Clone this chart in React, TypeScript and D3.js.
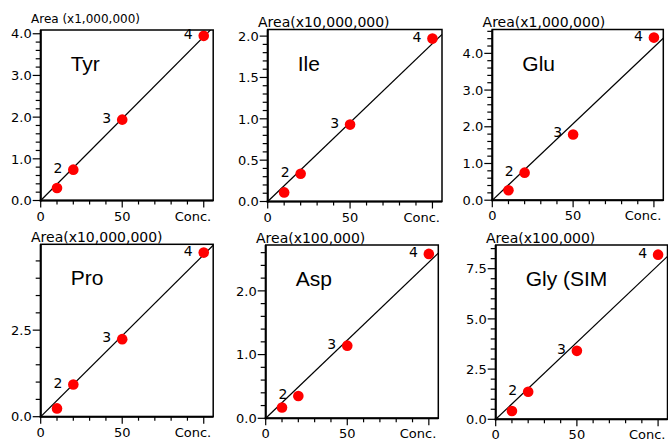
import * as d3 from "d3"

// concentration levels (x) and the point labels shown next to the dots
const conc = [10, 20, 50, 100]
const pointLabels = ["", "2", "3", "4"]

// peak area per compound, in the unit of each panel's axis label
const names = ["Tyr", "Ile", "Glu", "Pro", "Asp", "Gly (SIM"]
const units = [
  "Area (x1,000,000)",
  "Area(x10,000,000)",
  "Area(x1,000,000)",
  "Area(x10,000,000)",
  "Area(x100,000)",
  "Area(x100,000)",
]
const tyr = [0.3, 0.74, 1.94, 3.95]
const ile = [0.11, 0.335, 0.93, 1.97]
const glu = [0.27, 0.75, 1.79, 4.43]
const pro = [0.24, 0.93, 2.24, 4.74]
const asp = [0.17, 0.35, 1.14, 2.58]
const gly = [0.41, 1.37, 3.41, 8.2]
const areas = [tyr, ile, glu, pro, asp, gly]

// calibration line slope
const slopes = [0.0393, 0.0191, 0.0417, 0.0468, 0.0245, 0.0767]

// axis extents and ticks
const xMax = 105.8
const xMajor = [0, 50, 100]
const xTickLabels = ["0", "50", ""]
const yMax = [4.09, 2.08, 4.65, 4.98, 2.72, 8.68]
const yMajor = [
  [0, 1, 2, 3, 4],
  [0, 0.5, 1, 1.5, 2],
  [0, 1, 2, 3, 4],
  [0, 2.5],
  [0, 1, 2],
  [0, 2.5, 5, 7.5],
]
const yMinorStep = [0.2, 0.1, 0.2, 0.5, 0.2, 0.5]

// panel frames in the page
const frames = [
  { left: 40.7, top: 30, width: 172.5, height: 170.5 },
  { left: 267.7, top: 29.5, width: 174.3, height: 172 },
  { left: 492.3, top: 29.5, width: 171, height: 170.7 },
  { left: 40.7, top: 244.3, width: 172.5, height: 172.4 },
  { left: 265.7, top: 245, width: 172.6, height: 173.3 },
  { left: 495.7, top: 245, width: 171.8, height: 174.3 },
]

const TICK_FONT = "'DejaVu Sans', sans-serif"
const TITLE_FONT = "'Liberation Sans', Arial, sans-serif"

function Panel({ i }: { i: number }) {
  const f = frames[i]
  const x = d3.scaleLinear().domain([0, xMax]).range([f.left, f.left + f.width])
  const y = d3.scaleLinear().domain([0, yMax[i]]).range([f.top + f.height, f.top])
  const bottom = f.top + f.height
  const xMinor = d3.range(0, 101, 10).filter((v) => !xMajor.includes(v))
  const yMinor = d3
    .range(0, yMax[i] + 1e-9, yMinorStep[i])
    .filter((v) => !yMajor[i].some((m) => Math.abs(m - v) < 1e-6))
  const clipId = `clip${i}`
  const line = d3.line<number>().x((v) => x(v)).y((v) => y(v * slopes[i]))
  const isFirst = i === 0

  return (
    <g>
      <defs>
        <clipPath id={clipId}>
          <rect x={f.left} y={f.top} width={f.width} height={f.height} />
        </clipPath>
      </defs>
      <path
        d={line([0, xMax]) ?? ""}
        stroke="#000"
        strokeWidth={1.2}
        fill="none"
        clipPath={`url(#${clipId})`}
      />
      {areas[i].map((a, k) => (
        <circle key={k} cx={x(conc[k])} cy={y(a)} r={5.3} fill="#ff0000" />
      ))}
      {areas[i].map((a, k) =>
        pointLabels[k] ? (
          <text
            key={"l" + k}
            x={x(conc[k]) - 11}
            y={y(a) + 3}
            textAnchor="end"
            fontFamily={TICK_FONT}
            fontSize={14}
          >
            {pointLabels[k]}
          </text>
        ) : null
      )}
      <rect
        x={f.left}
        y={f.top}
        width={f.width}
        height={f.height}
        fill="none"
        stroke="#000"
        strokeWidth={1.5}
      />
      <line x1={f.left} x2={f.left} y1={f.top} y2={bottom + 1} stroke="#000" strokeWidth={2} />
      <line x1={f.left - 1} x2={f.left + f.width} y1={bottom} y2={bottom} stroke="#000" strokeWidth={2} />
      {/* x axis ticks */}
      {xMajor.map((v, k) => (
        <g key={"xm" + k}>
          <line x1={x(v)} x2={x(v)} y1={bottom} y2={bottom + 7} stroke="#000" strokeWidth={1.2} />
          <text
            x={x(v)}
            y={bottom + 20}
            textAnchor="middle"
            fontFamily={TICK_FONT}
            fontSize={13}
          >
            {xTickLabels[k]}
          </text>
        </g>
      ))}
      {xMinor.map((v) => (
        <line key={"xn" + v} x1={x(v)} x2={x(v)} y1={bottom} y2={bottom + 4} stroke="#000" strokeWidth={1.2} />
      ))}
      <text
        x={f.left + f.width - 2}
        y={bottom + 20}
        textAnchor="end"
        fontFamily={TICK_FONT}
        fontSize={13}
      >
        Conc.
      </text>
      {/* y axis ticks */}
      {yMajor[i].map((v) => (
        <g key={"ym" + v}>
          <line x1={f.left - 8} x2={f.left} y1={y(v)} y2={y(v)} stroke="#000" strokeWidth={1.2} />
          <text
            x={f.left - 9}
            y={y(v) + 4.7}
            textAnchor="end"
            fontFamily={TICK_FONT}
            fontSize={13}
          >
            {v.toFixed(1)}
          </text>
        </g>
      ))}
      {yMinor.map((v, k) => (
        <line key={"yn" + k} x1={f.left - 5} x2={f.left} y1={y(v)} y2={y(v)} stroke="#000" strokeWidth={1.2} />
      ))}
      <text
        x={isFirst ? 31 : f.left - 9.7}
        y={isFirst ? 22.5 : f.top - 2.5}
        fontFamily={TICK_FONT}
        fontSize={isFirst ? 12 : 14}
      >
        {units[i]}
      </text>
      <text x={f.left + 30} y={f.top + 41} fontFamily={TITLE_FONT} fontSize={21}>
        {names[i]}
      </text>
    </g>
  )
}

export default function App() {
  return (
    <svg
      width={668}
      height={443}
      style={{ position: "absolute", left: 0, top: 0, background: "#fff" }}
    >
      {names.map((_, i) => (
        <Panel key={i} i={i} />
      ))}
    </svg>
  )
}
